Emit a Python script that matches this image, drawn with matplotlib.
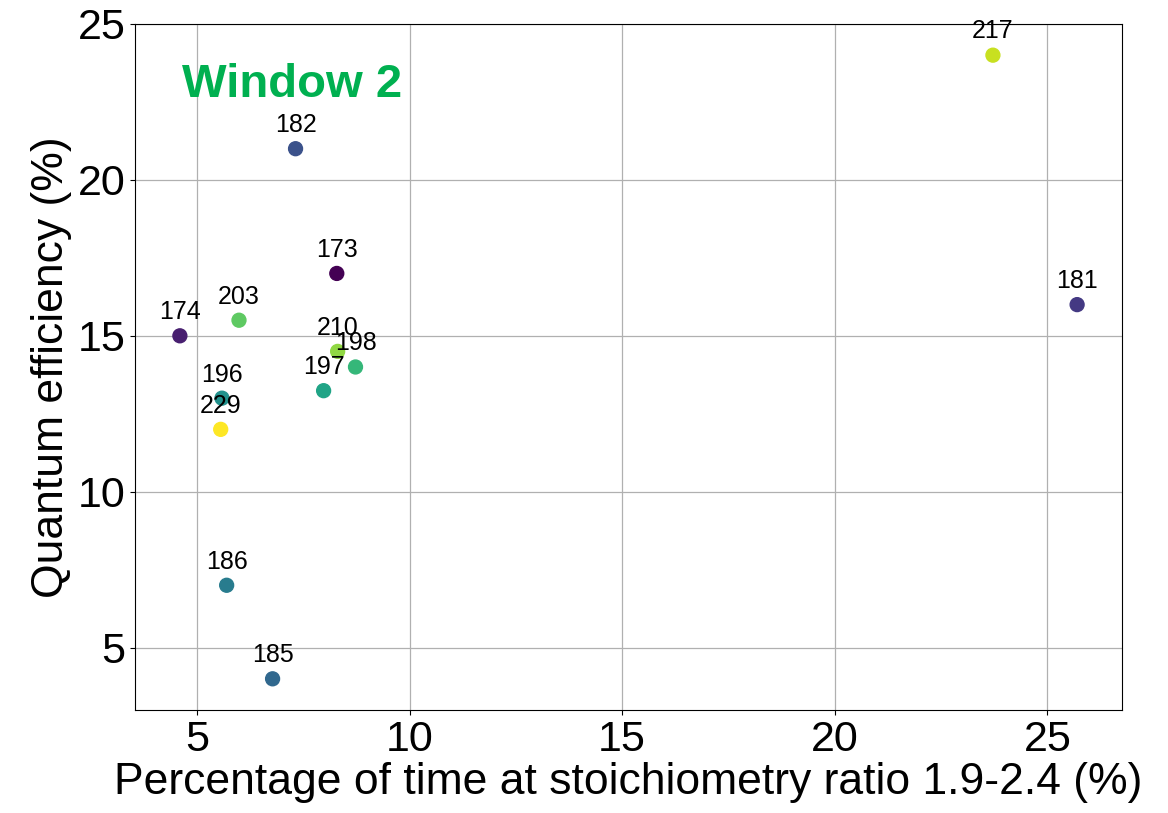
import matplotlib.pyplot as plt
import numpy as np

plt.rcParams['font.family'] = ['Liberation Sans', 'DejaVu Sans']

# sample runs and their measurements
runs = [173, 174, 181, 182, 185, 186, 196, 197, 198, 203, 210, 217, 229]
stoich_time = [8.29, 4.60, 25.70, 7.32, 6.78, 5.70, 5.59, 7.98, 8.73, 5.99, 8.31, 23.72, 5.56]
quantum_eff = [17.0, 15.0, 16.0, 21.0, 4.0, 7.0, 13.0, 13.24, 14.0, 15.5, 14.5, 24.0, 12.0]

fig = plt.figure(figsize=(11.68, 8.13), dpi=100)
ax = fig.add_axes([0.1156, 0.1267, 0.845, 0.8438])

colors = np.arange(len(runs))
ax.scatter(stoich_time, quantum_eff, c=colors, cmap='viridis', s=100, zorder=3)

for run, x, y in zip(runs, stoich_time, quantum_eff):
    ax.annotate(str(run), (x, y), xytext=(0, 12), textcoords='offset points',
                ha='center', fontsize=18, annotation_clip=False)

ax.text(0.0476, 0.894, 'Window 2', transform=ax.transAxes, fontsize=34,
        fontweight='bold', color='#00b050')

ax.set_xlabel('Percentage of time at stoichiometry ratio 1.9-2.4 (%)', fontsize=32, labelpad=2)
ax.set_ylabel('Quantum efficiency (%)', fontsize=32, labelpad=4)
ax.tick_params(labelsize=31)
ax.grid(True, color='#b0b0b0', linewidth=0.9)
ax.set_axisbelow(True)

fig.savefig('out.png', dpi=100)
